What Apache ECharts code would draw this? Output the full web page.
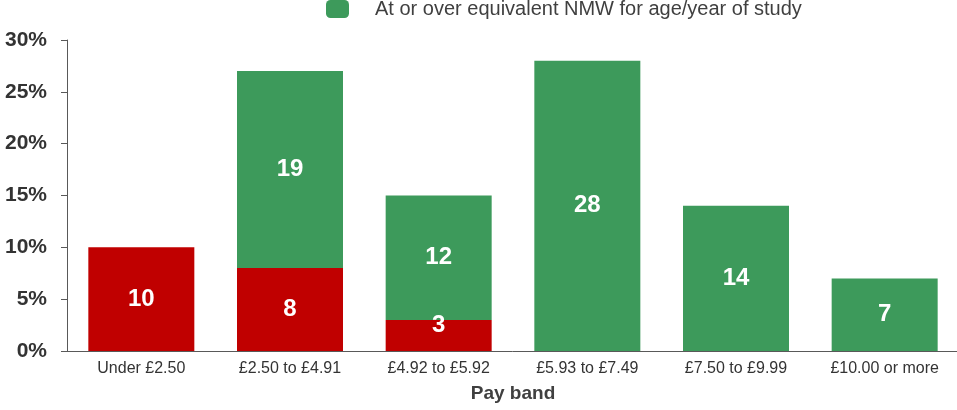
<!DOCTYPE html>
<html><head><meta charset="utf-8">
<script src="https://cdn.jsdelivr.net/npm/echarts@6/dist/echarts.min.js"></script>
<style>html,body{margin:0;padding:0;background:#fff}#c{width:957px;height:410px}</style>
</head><body><div id="c"></div>
<script>
const categories = ['Under £2.50','£2.50 to £4.91','£4.92 to £5.92','£5.93 to £7.49','£7.50 to £9.99','£10.00 or more'];
const belowNMW = [10, 8, 3, null, null, null];
const atOrOverNMW = [null, 19, 12, 28, 14, 7];
const yTicks = [0, 5, 10, 15, 20, 25, 30];
const belowName = 'Below equivalent NMW for age/year of study';
const overName = 'At or over equivalent NMW for age/year of study';

const chart = echarts.init(document.getElementById('c'));
const FF = 'Liberation Sans, Arial, sans-serif';
const lbl = {show:true, position:'inside', color:'#fff', fontFamily:FF, fontWeight:'bold', fontSize:24};
chart.setOption({
  animation:false,
  legend:{data:[overName], left:326, top:-1, padding:0, itemWidth:23, itemHeight:18, itemGap:10,
    textStyle:{color:'#404040', fontSize:20, fontFamily:FF, padding:[0,0,0,21]}},
  grid:{left:67, right:-2, top:40, bottom:59, containLabel:false, outerBoundsMode:'none'},
  xAxis:{type:'category', data:categories, name:'Pay band', nameLocation:'middle', nameGap:33,
    nameTextStyle:{fontWeight:'bold', fontSize:19, color:'#404040', fontFamily:FF},
    axisLine:{lineStyle:{color:'#595959', width:1}},
    axisTick:{alignWithLabel:true, length:5, lineStyle:{color:'#595959'}},
    axisLabel:{interval:0, hideOverlap:false, color:'#333', fontSize:16, margin:10, fontFamily:FF}},
  yAxis:{type:'value', min:yTicks[0], max:yTicks[yTicks.length-1], interval:5,
    splitLine:{show:false},
    axisLine:{show:true, lineStyle:{color:'#595959', width:1}},
    axisTick:{show:true, length:6, lineStyle:{color:'#595959'}},
    axisLabel:{formatter:'{value}%', color:'#333', fontSize:21, fontWeight:'bold', margin:20, fontFamily:FF}},
  series:[
    {name:belowName, type:'bar', stack:'a', data:belowNMW.map(v=> v===3 ? {value:v, label:{offset:[0,-10]}} : v),
      barWidth:106, itemStyle:{color:'#C00000'}, label:lbl},
    {name:overName, type:'bar', stack:'a', data:atOrOverNMW, barWidth:106,
      itemStyle:{color:'#3D9A5B'}, label:lbl}
  ]
});
</script></body></html>
